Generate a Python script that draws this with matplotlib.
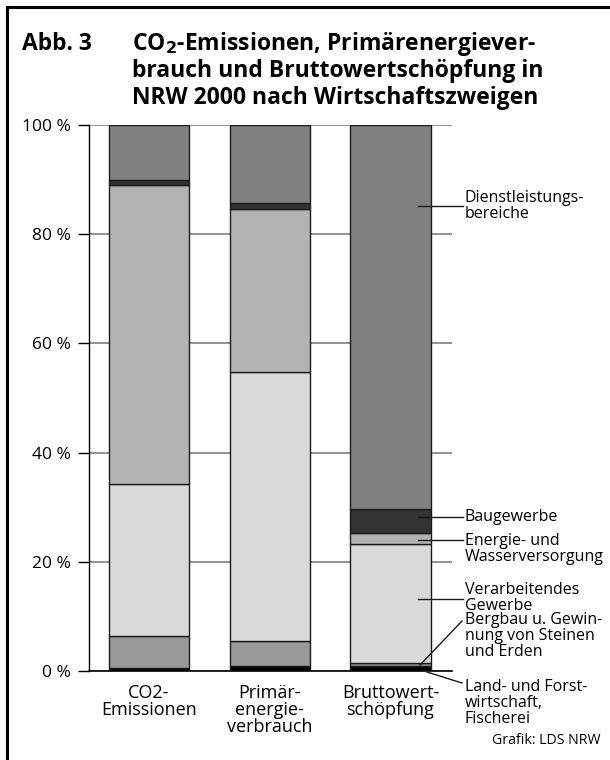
import numpy as np
import matplotlib.pyplot as plt
from matplotlib.lines import Line2D

plt.rcParams['font.family'] = ['Open Sans', 'DejaVu Sans']

# --- data (shares in %, stacked bottom -> top) ---
categories = ['CO2-\nEmissionen', 'Primär-\nenergie-\nverbrauch', 'Bruttowert-\nschöpfung']
land       = [0.6, 0.9, 1.0]
bergbau    = [5.8, 4.6, 0.4]
verarb     = [27.9, 49.3, 21.9]
energie    = [54.8, 29.8, 2.0]
bau        = [0.9, 1.1, 4.4]
dienst     = [10.0, 14.3, 70.3]

segments = [land, bergbau, verarb, energie, bau, dienst]
seg_colors = ['#000000', '#999999', '#d9d9d9', '#b3b3b3', '#333333', '#808080']

yticks = [0, 20, 40, 60, 80, 100]
ytick_labels = ['0 %', '20 %', '40 %', '60 %', '80 %', '100 %']

fig = plt.figure(figsize=(6.1, 7.6), dpi=100)
W, H = 610, 760

# axes placement in pixels: x 89..452, y 125..671
ax = fig.add_axes([89 / W, 1 - 671 / H, (452 - 89) / W, (671 - 125) / H])
ax.set_xlim(-0.497, 2.509)
ax.set_ylim(0, 100)

x = np.arange(len(categories))
bottom = np.zeros(len(categories))
for vals, col in zip(segments, seg_colors):
    ax.bar(x, vals, bottom=bottom, width=0.665, color=col,
           edgecolor='#1a1a1a', linewidth=1.0, zorder=3)
    bottom += np.array(vals)

ax.set_yticks(yticks)
ax.set_yticklabels(ytick_labels, fontsize=12.5)
ax.grid(True, axis='y', color='#808080', linewidth=1.2, zorder=0)
ax.tick_params(axis='y', length=8, width=1, direction='out', pad=5)
ax.tick_params(axis='x', length=0, pad=9)
ax.set_xticks(x)
ax.set_xticklabels(categories, fontsize=13, linespacing=0.95)
for s in ['top', 'right']:
    ax.spines[s].set_visible(False)
ax.spines['left'].set_linewidth(1)
ax.spines['bottom'].set_linewidth(1.2)

# --- right-hand labels with leader lines ---
tx = 465 / W
LFS = 11.5


def leader(x0, y0, x1, y1):
    fig.add_artist(Line2D([x0 / W, x1 / W], [1 - y0 / H, 1 - y1 / H],
                          color='#1a1a1a', linewidth=1.0, zorder=5))


def rlabel(text, y_px, va='center'):
    fig.text(tx, 1 - y_px / H, text, fontsize=LFS, va=va, ha='left',
             linespacing=1.0)


leader(418, 206, 463, 206)
rlabel('Dienstleistungs-\nbereiche', 206)
leader(418, 517, 463, 517)
rlabel('Baugewerbe', 517)
leader(418, 540, 463, 540)
rlabel('Energie- und\nWasserversorgung', 549)
leader(418, 599, 463, 599)
rlabel('Verarbeitendes\nGewerbe', 598)
leader(420, 665, 462, 621)
rlabel('Bergbau u. Gewin-\nnung von Steinen\nund Erden', 612, va='top')
leader(427, 672, 462, 683)
rlabel('Land- und Forst-\nwirtschaft,\nFischerei', 679, va='top')

fig.text(600 / W, 1 - 741 / H, 'Grafik: LDS NRW', fontsize=10.2,
         ha='right', va='center')

# --- title ---
TFS = 16.5
fig.text(22 / W, 1 - 44 / H, 'Abb. 3', fontsize=TFS, fontweight='bold',
         va='center', ha='left')
fig.text(132 / W, 1 - 44 / H, 'CO$_\\mathbf{2}$-Emissionen, Primärenergiever-',
         fontsize=TFS, fontweight='bold', va='center', ha='left')
fig.text(132 / W, 1 - 71 / H, 'brauch und Bruttowertschöpfung in',
         fontsize=TFS, fontweight='bold', va='center', ha='left')
fig.text(132 / W, 1 - 98 / H, 'NRW 2000 nach Wirtschaftszweigen',
         fontsize=TFS, fontweight='bold', va='center', ha='left')

# frame: left and top only
fig.add_artist(Line2D([7 / W, 7 / W], [0, 1 - 7 / H], color='black', linewidth=2.2))
fig.add_artist(Line2D([7 / W, 1], [1 - 7 / H, 1 - 7 / H], color='black', linewidth=2.2))

fig.savefig('out.png', dpi=100)
